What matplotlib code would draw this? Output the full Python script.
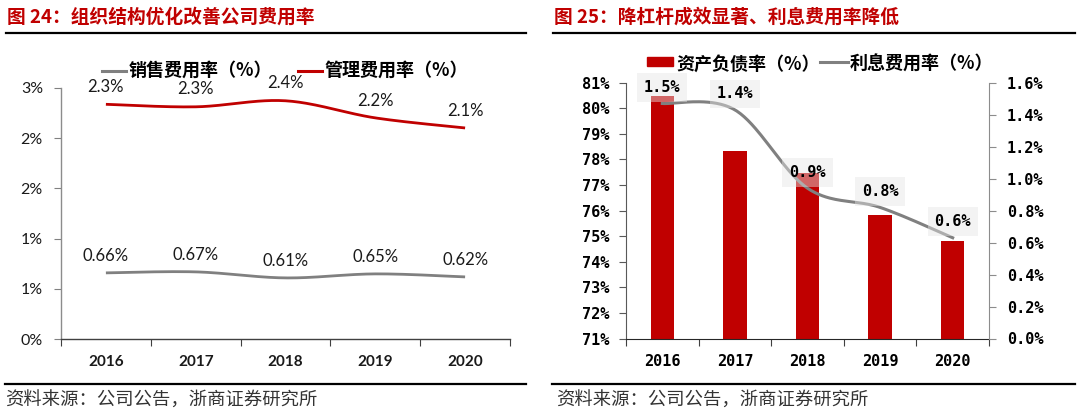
import numpy as np
import matplotlib
matplotlib.use('Agg')
import matplotlib.pyplot as plt
from matplotlib.lines import Line2D
from matplotlib.patches import Rectangle

plt.rcParams['font.family'] = ['Noto Sans CJK SC', 'DejaVu Sans']

# ---- data ----
years = ['2016', '2017', '2018', '2019', '2020']
sales_rate = [0.66, 0.67, 0.61, 0.65, 0.62]      # 销售费用率 %
admin_rate = [2.335, 2.31, 2.37, 2.20, 2.10]      # 管理费用率 %
left_ticks = [0, 0.5, 1.0, 1.5, 2.0, 2.5]
left_tick_labels = ['0%', '1%', '1%', '2%', '2%', '3%']

debt_ratio = [80.48, 78.34, 77.46, 75.83, 74.82]  # 资产负债率 %
interest_rate = [1.47, 1.43, 0.94, 0.82, 0.63]    # 利息费用率 %
bar_ticks = list(range(71, 82))
line_ticks = [0, 0.2, 0.4, 0.6, 0.8, 1.0, 1.2, 1.4, 1.6]

title_left = '图 24：组织结构优化改善公司费用率'
title_right = '图 25：降杠杆成效显著、利息费用率降低'
source = '资料来源：公司公告，浙商证券研究所'

RED = '#C00000'
GRAY = '#808080'
W, H = 1080, 415


def fx(x):
    return x / W


def fy(y):
    return 1 - y / H


def smooth(xs, ys, n=40):
    # excel-like smoothed line (catmull-rom as bezier)
    p = np.column_stack([xs, ys]).astype(float)
    out = []
    for i in range(len(p) - 1):
        p0 = p[max(i - 1, 0)]
        p1 = p[i]
        p2 = p[i + 1]
        p3 = p[min(i + 2, len(p) - 1)]
        c1 = p1 + (p2 - p0) / 6
        c2 = p2 - (p3 - p1) / 6
        t = np.linspace(0, 1, n)[:, None]
        seg = ((1 - t) ** 3) * p1 + 3 * ((1 - t) ** 2) * t * c1 + 3 * (1 - t) * t ** 2 * c2 + t ** 3 * p2
        out.append(seg)
    out = np.vstack(out)
    return out[:, 0], out[:, 1]


fig = plt.figure(figsize=(10.8, 4.15), dpi=100)

# titles, rules, sources
fig.text(fx(7), fy(17), title_left, color=RED, fontsize=13.5, fontweight='bold', va='center')
fig.text(fx(554), fy(17), title_right, color=RED, fontsize=13.5, fontweight='bold', va='center')
for x0, x1 in [(6, 526), (553, 1075)]:
    fig.add_artist(Line2D([fx(x0), fx(x1)], [fy(33.5), fy(33.5)], color='black', lw=1.6))
    fig.add_artist(Line2D([fx(x0 - 1), fx(x1)], [fy(384), fy(384)], color='black', lw=1.6))
fig.text(fx(5), fy(401), source, fontsize=13.2, color='#333333', va='center', fontweight='light')
fig.text(fx(556), fy(401), source, fontsize=13.2, color='#333333', va='center', fontweight='light')

# ---- left chart ----
ax = fig.add_axes([fx(61), fy(339.3), fx(510) - fx(61), (339.3 - 87.7) / H])
x = np.arange(len(years))
for vals, col in [(sales_rate, GRAY), (admin_rate, RED)]:
    sx, sy = smooth(x, vals)
    ax.plot(sx, sy, color=col, lw=2.0, solid_capstyle='butt')
    for xi, v in zip(x, vals):
        ax.annotate(f'{v:.2f}%' if col == GRAY else f'{v:.1f}%', (xi, v), xytext=(0, 12.5),
                    textcoords='offset points', ha='center', va='center',
                    fontsize=12, family=['Lato', 'DejaVu Sans'], color='#1a1a1a')
ax.set_xlim(-0.5, len(years) - 0.5)
ax.set_ylim(0, 2.5)
ax.set_yticks(left_ticks)
ax.set_yticklabels(left_tick_labels, family=['Lato', 'DejaVu Sans'], fontsize=11.5, color='#1a1a1a')
ax.set_xticks(np.arange(len(years) + 1) - 0.5)
ax.set_xticklabels([])
ax.set_xticks(x, minor=True)
ax.set_xticklabels(years, minor=True, family=['Lato', 'DejaVu Sans'], fontsize=11,
                   fontweight='bold', color='#1a1a1a')
ax.tick_params(axis='x', which='major', length=5, color='#404040', direction='out')
ax.tick_params(axis='x', which='minor', length=0, pad=11)
ax.tick_params(axis='y', length=5, color='#808080', direction='out', pad=8)
for s in ['top', 'right']:
    ax.spines[s].set_visible(False)
ax.spines['left'].set_color('#8C8C8C')
ax.spines['bottom'].set_color('#404040')
ax.spines['left'].set_linewidth(1.0)
ax.spines['bottom'].set_linewidth(1.0)

# left legend
fig.add_artist(Line2D([fx(102), fx(126)], [fy(71), fy(71)], color=GRAY, lw=2.2))
fig.text(fx(129), fy(70), '销售费用率（%）', fontsize=13, fontweight='bold', va='center')
fig.add_artist(Line2D([fx(298), fx(322)], [fy(71), fy(71)], color=RED, lw=2.2))
fig.text(fx(325), fy(70), '管理费用率（%）', fontsize=13, fontweight='bold', va='center')

# ---- right chart ----
mono = ['DejaVu Sans Mono', 'DejaVu Sans']
ax1 = fig.add_axes([fx(626), fy(338.5), fx(989) - fx(626), (338.5 - 82.7) / H])
ax1.bar(x, [v - 71 for v in debt_ratio], bottom=71, width=0.32, color=RED, zorder=2)
ax1.set_xlim(-0.5, len(years) - 0.5)
ax1.set_ylim(71, 81)
ax1.set_yticks(bar_ticks)
ax1.set_yticklabels([f'{t}%' for t in bar_ticks], family=mono, fontweight='bold', fontsize=11)
ax1.set_xticks(np.arange(len(years) + 1) - 0.5)
ax1.set_xticklabels([])
ax1.set_xticks(x, minor=True)
ax1.set_xticklabels(years, minor=True, family=mono, fontweight='bold', fontsize=11)
ax1.tick_params(axis='x', which='major', length=5, color='#404040')
ax1.tick_params(axis='x', which='minor', length=0, pad=11)
ax1.tick_params(axis='y', length=5, color='#595959', pad=7)
ax1.spines['top'].set_visible(False)
ax1.spines['right'].set_visible(False)
ax1.spines['left'].set_color('#595959')
ax1.spines['bottom'].set_color('#262626')

ax2 = ax1.twinx()
sx, sy = smooth(x, interest_rate)
ax2.plot(sx, sy, color=GRAY, lw=2.2, zorder=3)
for xi, v in zip(x, interest_rate):
    ax2.annotate(f'{v:.1f}%', (xi, v), xytext=(0, 11.5), textcoords='offset points',
                 ha='center', va='center', family=mono, fontweight='bold', fontsize=11,
                 zorder=4,
                 bbox=dict(boxstyle='square,pad=0.45', fc='#E6E6E6', ec='none', alpha=0.45))
ax2.set_ylim(0, 1.6)
ax2.set_yticks(line_ticks)
ax2.set_yticklabels([f'{t:.1f}%' for t in line_ticks], family=mono, fontweight='bold', fontsize=11)
ax2.tick_params(axis='y', length=5, color='#8C8C8C', pad=8)
ax2.spines['top'].set_visible(False)
ax2.spines['left'].set_visible(False)
ax2.spines['bottom'].set_visible(False)
ax2.spines['right'].set_color('#8C8C8C')

# right legend
fig.add_artist(Rectangle((fx(647), fy(66)), fx(673) - fx(647), 9 / H, color=RED,
                         transform=fig.transFigure))
fig.text(fx(676), fy(64), '资产负债率（%）', fontsize=13, fontweight='bold', va='center')
fig.add_artist(Line2D([fx(820), fx(848)], [fy(62), fy(62)], color=GRAY, lw=2.2))
fig.text(fx(850), fy(64), '利息费用率（%）', fontsize=13, fontweight='bold', va='center')

fig.savefig('out.png', dpi=100)
